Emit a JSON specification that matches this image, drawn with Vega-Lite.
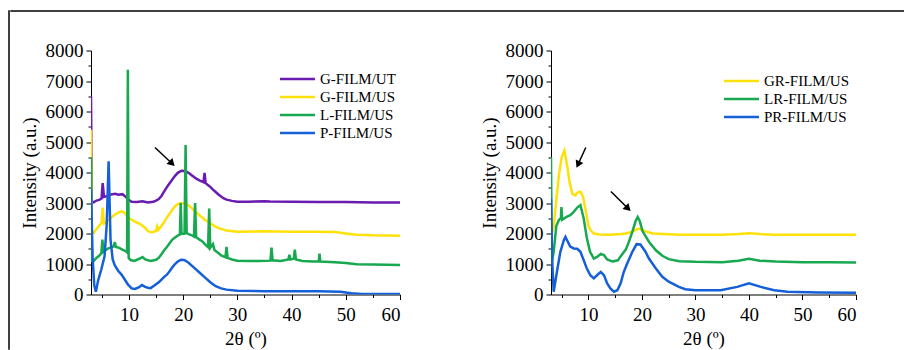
{
  "$schema": "https://vega.github.io/schema/vega-lite/v6.json",
  "padding": {"left": 8, "top": 10, "right": 0, "bottom": 0},
  "background": "white",
  "config": {
    "view": {"stroke": null},
    "font": "Liberation Serif",
    "axis": {"labelFont": "Liberation Serif", "titleFont": "Liberation Serif", "labelFontSize": 19, "titleFontSize": 19, "titleFontWeight": "normal", "labelColor": "black", "titleColor": "black", "domainColor": "black", "tickColor": "black", "domainWidth": 1, "tickWidth": 1, "grid": false, "tickSize": 5, "format": "d"},
    "legend": {"labelFont": "Liberation Serif", "labelFontSize": 15, "labelColor": "black", "symbolType": "M-3,0H3", "symbolSize": 136, "symbolStrokeWidth": 2.5, "labelOffset": 15, "rowPadding": 2, "padding": 0, "title": null}
  },
  "datasets": {
    "L": [
      {"s":"G-FILM/UT","x":3,"y":6500},{"s":"G-FILM/UT","x":3.15,"y":3050},{"s":"G-FILM/UT","x":3.5,"y":3020},{"s":"G-FILM/UT","x":4,"y":3080},{"s":"G-FILM/UT","x":4.5,"y":3100},{"s":"G-FILM/UT","x":4.95,"y":3150},{"s":"G-FILM/UT","x":5.15,"y":3650},{"s":"G-FILM/UT","x":5.4,"y":3200},{"s":"G-FILM/UT","x":6,"y":3230},{"s":"G-FILM/UT","x":6.7,"y":3280},{"s":"G-FILM/UT","x":7.5,"y":3300},{"s":"G-FILM/UT","x":8,"y":3270},{"s":"G-FILM/UT","x":8.8,"y":3290},{"s":"G-FILM/UT","x":9.3,"y":3220},{"s":"G-FILM/UT","x":9.8,"y":3120},{"s":"G-FILM/UT","x":10.5,"y":3040},{"s":"G-FILM/UT","x":11.5,"y":3030},{"s":"G-FILM/UT","x":12.5,"y":3060},{"s":"G-FILM/UT","x":13.5,"y":3020},{"s":"G-FILM/UT","x":14.5,"y":3040},{"s":"G-FILM/UT","x":15,"y":3080},{"s":"G-FILM/UT","x":15.5,"y":3130},{"s":"G-FILM/UT","x":16,"y":3230},{"s":"G-FILM/UT","x":16.5,"y":3380},{"s":"G-FILM/UT","x":17,"y":3520},{"s":"G-FILM/UT","x":17.5,"y":3650},{"s":"G-FILM/UT","x":18,"y":3770},{"s":"G-FILM/UT","x":18.5,"y":3890},{"s":"G-FILM/UT","x":19,"y":3990},{"s":"G-FILM/UT","x":19.7,"y":4060},{"s":"G-FILM/UT","x":20.3,"y":4050},{"s":"G-FILM/UT","x":21,"y":3990},{"s":"G-FILM/UT","x":21.5,"y":3920},{"s":"G-FILM/UT","x":22,"y":3850},{"s":"G-FILM/UT","x":22.5,"y":3790},{"s":"G-FILM/UT","x":23,"y":3740},{"s":"G-FILM/UT","x":23.75,"y":3680},{"s":"G-FILM/UT","x":23.95,"y":3990},{"s":"G-FILM/UT","x":24.15,"y":3650},{"s":"G-FILM/UT","x":24.5,"y":3600},{"s":"G-FILM/UT","x":25,"y":3530},{"s":"G-FILM/UT","x":25.5,"y":3440},{"s":"G-FILM/UT","x":26,"y":3360},{"s":"G-FILM/UT","x":26.5,"y":3280},{"s":"G-FILM/UT","x":27,"y":3210},{"s":"G-FILM/UT","x":27.5,"y":3150},{"s":"G-FILM/UT","x":28,"y":3110},{"s":"G-FILM/UT","x":29,"y":3070},{"s":"G-FILM/UT","x":30,"y":3040},{"s":"G-FILM/UT","x":32,"y":3040},{"s":"G-FILM/UT","x":35,"y":3060},{"s":"G-FILM/UT","x":36,"y":3050},{"s":"G-FILM/UT","x":40,"y":3040},{"s":"G-FILM/UT","x":45,"y":3030},{"s":"G-FILM/UT","x":50,"y":3030},{"s":"G-FILM/UT","x":55,"y":3020},{"s":"G-FILM/UT","x":60,"y":3020},
      {"s":"G-FILM/US","x":3,"y":5400},{"s":"G-FILM/US","x":3.15,"y":2050},{"s":"G-FILM/US","x":3.5,"y":2020},{"s":"G-FILM/US","x":4,"y":2150},{"s":"G-FILM/US","x":4.5,"y":2250},{"s":"G-FILM/US","x":4.95,"y":2350},{"s":"G-FILM/US","x":5.15,"y":2850},{"s":"G-FILM/US","x":5.4,"y":2320},{"s":"G-FILM/US","x":6,"y":2400},{"s":"G-FILM/US","x":6.5,"y":2480},{"s":"G-FILM/US","x":7,"y":2570},{"s":"G-FILM/US","x":7.5,"y":2630},{"s":"G-FILM/US","x":8,"y":2680},{"s":"G-FILM/US","x":8.6,"y":2730},{"s":"G-FILM/US","x":9.2,"y":2680},{"s":"G-FILM/US","x":9.8,"y":2540},{"s":"G-FILM/US","x":10.5,"y":2450},{"s":"G-FILM/US","x":11,"y":2400},{"s":"G-FILM/US","x":12,"y":2320},{"s":"G-FILM/US","x":13,"y":2180},{"s":"G-FILM/US","x":13.5,"y":2080},{"s":"G-FILM/US","x":14,"y":2040},{"s":"G-FILM/US","x":14.5,"y":2050},{"s":"G-FILM/US","x":15,"y":2090},{"s":"G-FILM/US","x":15.2,"y":2230},{"s":"G-FILM/US","x":15.4,"y":2120},{"s":"G-FILM/US","x":16,"y":2250},{"s":"G-FILM/US","x":16.5,"y":2380},{"s":"G-FILM/US","x":17,"y":2520},{"s":"G-FILM/US","x":17.5,"y":2650},{"s":"G-FILM/US","x":18,"y":2780},{"s":"G-FILM/US","x":18.5,"y":2890},{"s":"G-FILM/US","x":19,"y":2960},{"s":"G-FILM/US","x":19.6,"y":3000},{"s":"G-FILM/US","x":20.2,"y":2980},{"s":"G-FILM/US","x":21,"y":2920},{"s":"G-FILM/US","x":21.5,"y":2850},{"s":"G-FILM/US","x":22,"y":2760},{"s":"G-FILM/US","x":22.5,"y":2680},{"s":"G-FILM/US","x":23,"y":2600},{"s":"G-FILM/US","x":23.5,"y":2530},{"s":"G-FILM/US","x":24,"y":2450},{"s":"G-FILM/US","x":25,"y":2330},{"s":"G-FILM/US","x":26,"y":2220},{"s":"G-FILM/US","x":27,"y":2150},{"s":"G-FILM/US","x":28,"y":2100},{"s":"G-FILM/US","x":30,"y":2060},{"s":"G-FILM/US","x":35,"y":2070},{"s":"G-FILM/US","x":40,"y":2060},{"s":"G-FILM/US","x":45,"y":2060},{"s":"G-FILM/US","x":48,"y":2050},{"s":"G-FILM/US","x":50,"y":2000},{"s":"G-FILM/US","x":52,"y":1960},{"s":"G-FILM/US","x":55,"y":1940},{"s":"G-FILM/US","x":60,"y":1930},
      {"s":"L-FILM/US","x":3,"y":4500},{"s":"L-FILM/US","x":3.15,"y":1100},{"s":"L-FILM/US","x":3.5,"y":1100},{"s":"L-FILM/US","x":4,"y":1200},{"s":"L-FILM/US","x":4.5,"y":1270},{"s":"L-FILM/US","x":4.9,"y":1350},{"s":"L-FILM/US","x":5.1,"y":1800},{"s":"L-FILM/US","x":5.3,"y":1400},{"s":"L-FILM/US","x":5.8,"y":1470},{"s":"L-FILM/US","x":6.3,"y":1520},{"s":"L-FILM/US","x":6.8,"y":1550},{"s":"L-FILM/US","x":7.2,"y":1580},{"s":"L-FILM/US","x":7.4,"y":1720},{"s":"L-FILM/US","x":7.6,"y":1560},{"s":"L-FILM/US","x":8.2,"y":1530},{"s":"L-FILM/US","x":8.8,"y":1470},{"s":"L-FILM/US","x":9.4,"y":1420},{"s":"L-FILM/US","x":9.65,"y":1380},{"s":"L-FILM/US","x":9.8,"y":7370},{"s":"L-FILM/US","x":9.95,"y":1200},{"s":"L-FILM/US","x":10.3,"y":1130},{"s":"L-FILM/US","x":11,"y":1100},{"s":"L-FILM/US","x":12,"y":1180},{"s":"L-FILM/US","x":12.5,"y":1230},{"s":"L-FILM/US","x":13,"y":1150},{"s":"L-FILM/US","x":14,"y":1100},{"s":"L-FILM/US","x":15,"y":1140},{"s":"L-FILM/US","x":15.5,"y":1200},{"s":"L-FILM/US","x":16,"y":1320},{"s":"L-FILM/US","x":16.5,"y":1450},{"s":"L-FILM/US","x":17,"y":1560},{"s":"L-FILM/US","x":17.5,"y":1680},{"s":"L-FILM/US","x":18,"y":1800},{"s":"L-FILM/US","x":18.5,"y":1870},{"s":"L-FILM/US","x":19,"y":1930},{"s":"L-FILM/US","x":19.4,"y":1970},{"s":"L-FILM/US","x":19.55,"y":3000},{"s":"L-FILM/US","x":19.7,"y":1990},{"s":"L-FILM/US","x":20.25,"y":2000},{"s":"L-FILM/US","x":20.45,"y":4900},{"s":"L-FILM/US","x":20.65,"y":2010},{"s":"L-FILM/US","x":21,"y":1980},{"s":"L-FILM/US","x":21.5,"y":1950},{"s":"L-FILM/US","x":22,"y":1900},{"s":"L-FILM/US","x":22.2,"y":3000},{"s":"L-FILM/US","x":22.4,"y":1880},{"s":"L-FILM/US","x":23,"y":1800},{"s":"L-FILM/US","x":23.5,"y":1750},{"s":"L-FILM/US","x":24,"y":1650},{"s":"L-FILM/US","x":24.6,"y":1550},{"s":"L-FILM/US","x":24.8,"y":2820},{"s":"L-FILM/US","x":25,"y":1530},{"s":"L-FILM/US","x":25.5,"y":1650},{"s":"L-FILM/US","x":25.8,"y":1450},{"s":"L-FILM/US","x":26.5,"y":1360},{"s":"L-FILM/US","x":27,"y":1280},{"s":"L-FILM/US","x":27.8,"y":1220},{"s":"L-FILM/US","x":28,"y":1560},{"s":"L-FILM/US","x":28.2,"y":1200},{"s":"L-FILM/US","x":29,"y":1150},{"s":"L-FILM/US","x":30,"y":1110},{"s":"L-FILM/US","x":32,"y":1100},{"s":"L-FILM/US","x":34,"y":1100},{"s":"L-FILM/US","x":36.1,"y":1110},{"s":"L-FILM/US","x":36.3,"y":1540},{"s":"L-FILM/US","x":36.5,"y":1120},{"s":"L-FILM/US","x":38,"y":1100},{"s":"L-FILM/US","x":39.4,"y":1150},{"s":"L-FILM/US","x":39.6,"y":1300},{"s":"L-FILM/US","x":39.8,"y":1150},{"s":"L-FILM/US","x":40.4,"y":1180},{"s":"L-FILM/US","x":40.6,"y":1470},{"s":"L-FILM/US","x":40.8,"y":1150},{"s":"L-FILM/US","x":42,"y":1100},{"s":"L-FILM/US","x":44,"y":1080},{"s":"L-FILM/US","x":45,"y":1080},{"s":"L-FILM/US","x":45.15,"y":1340},{"s":"L-FILM/US","x":45.3,"y":1080},{"s":"L-FILM/US","x":48,"y":1060},{"s":"L-FILM/US","x":50,"y":1030},{"s":"L-FILM/US","x":52,"y":990},{"s":"L-FILM/US","x":55,"y":980},{"s":"L-FILM/US","x":60,"y":970},
      {"s":"P-FILM/US","x":3,"y":3450},{"s":"P-FILM/US","x":3.3,"y":1200},{"s":"P-FILM/US","x":3.6,"y":300},{"s":"P-FILM/US","x":3.9,"y":90},{"s":"P-FILM/US","x":4.3,"y":450},{"s":"P-FILM/US","x":4.9,"y":820},{"s":"P-FILM/US","x":5.5,"y":1250},{"s":"P-FILM/US","x":5.9,"y":2300},{"s":"P-FILM/US","x":6.25,"y":4370},{"s":"P-FILM/US","x":6.6,"y":1800},{"s":"P-FILM/US","x":7,"y":1150},{"s":"P-FILM/US","x":7.4,"y":950},{"s":"P-FILM/US","x":8,"y":780},{"s":"P-FILM/US","x":8.6,"y":660},{"s":"P-FILM/US","x":9.2,"y":500},{"s":"P-FILM/US","x":9.8,"y":330},{"s":"P-FILM/US","x":10.5,"y":200},{"s":"P-FILM/US","x":11.1,"y":180},{"s":"P-FILM/US","x":11.8,"y":230},{"s":"P-FILM/US","x":12.4,"y":310},{"s":"P-FILM/US","x":13,"y":250},{"s":"P-FILM/US","x":13.5,"y":220},{"s":"P-FILM/US","x":14,"y":210},{"s":"P-FILM/US","x":14.75,"y":300},{"s":"P-FILM/US","x":15.5,"y":400},{"s":"P-FILM/US","x":16,"y":490},{"s":"P-FILM/US","x":16.5,"y":580},{"s":"P-FILM/US","x":17,"y":650},{"s":"P-FILM/US","x":17.5,"y":760},{"s":"P-FILM/US","x":18,"y":890},{"s":"P-FILM/US","x":18.5,"y":1000},{"s":"P-FILM/US","x":19,"y":1080},{"s":"P-FILM/US","x":19.6,"y":1140},{"s":"P-FILM/US","x":20.2,"y":1130},{"s":"P-FILM/US","x":21,"y":1040},{"s":"P-FILM/US","x":22,"y":880},{"s":"P-FILM/US","x":23,"y":720},{"s":"P-FILM/US","x":24,"y":560},{"s":"P-FILM/US","x":25,"y":400},{"s":"P-FILM/US","x":26,"y":270},{"s":"P-FILM/US","x":27,"y":200},{"s":"P-FILM/US","x":28,"y":160},{"s":"P-FILM/US","x":30,"y":120},{"s":"P-FILM/US","x":35,"y":110},{"s":"P-FILM/US","x":40,"y":105},{"s":"P-FILM/US","x":45,"y":110},{"s":"P-FILM/US","x":49,"y":90},{"s":"P-FILM/US","x":51,"y":40},{"s":"P-FILM/US","x":53,"y":20},{"s":"P-FILM/US","x":60,"y":15}
    ],
    "R": [
      {"s":"GR-FILM/US","x":3,"y":1950},{"s":"GR-FILM/US","x":3.5,"y":2200},{"s":"GR-FILM/US","x":4,"y":3100},{"s":"GR-FILM/US","x":4.5,"y":3950},{"s":"GR-FILM/US","x":5,"y":4500},{"s":"GR-FILM/US","x":5.5,"y":4720},{"s":"GR-FILM/US","x":6,"y":4250},{"s":"GR-FILM/US","x":6.5,"y":3650},{"s":"GR-FILM/US","x":7,"y":3300},{"s":"GR-FILM/US","x":7.5,"y":3250},{"s":"GR-FILM/US","x":8,"y":3350},{"s":"GR-FILM/US","x":8.5,"y":3370},{"s":"GR-FILM/US","x":9,"y":3200},{"s":"GR-FILM/US","x":9.5,"y":2750},{"s":"GR-FILM/US","x":10,"y":2250},{"s":"GR-FILM/US","x":10.5,"y":2080},{"s":"GR-FILM/US","x":11,"y":2000},{"s":"GR-FILM/US","x":12,"y":1970},{"s":"GR-FILM/US","x":14,"y":1960},{"s":"GR-FILM/US","x":16,"y":1980},{"s":"GR-FILM/US","x":17,"y":2000},{"s":"GR-FILM/US","x":18,"y":2050},{"s":"GR-FILM/US","x":19,"y":2130},{"s":"GR-FILM/US","x":19.5,"y":2160},{"s":"GR-FILM/US","x":20,"y":2120},{"s":"GR-FILM/US","x":21,"y":2050},{"s":"GR-FILM/US","x":22,"y":2000},{"s":"GR-FILM/US","x":24,"y":1980},{"s":"GR-FILM/US","x":27,"y":1960},{"s":"GR-FILM/US","x":30,"y":1960},{"s":"GR-FILM/US","x":35,"y":1960},{"s":"GR-FILM/US","x":38,"y":1980},{"s":"GR-FILM/US","x":40,"y":2010},{"s":"GR-FILM/US","x":42,"y":1980},{"s":"GR-FILM/US","x":45,"y":1960},{"s":"GR-FILM/US","x":50,"y":1960},{"s":"GR-FILM/US","x":55,"y":1960},{"s":"GR-FILM/US","x":60,"y":1960},
      {"s":"LR-FILM/US","x":3,"y":4500},{"s":"LR-FILM/US","x":3.15,"y":1050},{"s":"LR-FILM/US","x":3.5,"y":1400},{"s":"LR-FILM/US","x":4,"y":2250},{"s":"LR-FILM/US","x":4.5,"y":2450},{"s":"LR-FILM/US","x":4.85,"y":2500},{"s":"LR-FILM/US","x":4.95,"y":2870},{"s":"LR-FILM/US","x":5.1,"y":2450},{"s":"LR-FILM/US","x":5.5,"y":2500},{"s":"LR-FILM/US","x":6,"y":2550},{"s":"LR-FILM/US","x":6.6,"y":2600},{"s":"LR-FILM/US","x":7.2,"y":2700},{"s":"LR-FILM/US","x":7.9,"y":2850},{"s":"LR-FILM/US","x":8.5,"y":2930},{"s":"LR-FILM/US","x":9.1,"y":2500},{"s":"LR-FILM/US","x":9.7,"y":1850},{"s":"LR-FILM/US","x":10.3,"y":1400},{"s":"LR-FILM/US","x":11,"y":1180},{"s":"LR-FILM/US","x":11.6,"y":1230},{"s":"LR-FILM/US","x":12.3,"y":1330},{"s":"LR-FILM/US","x":12.9,"y":1290},{"s":"LR-FILM/US","x":13.5,"y":1150},{"s":"LR-FILM/US","x":14.5,"y":1080},{"s":"LR-FILM/US","x":15.5,"y":1120},{"s":"LR-FILM/US","x":16,"y":1250},{"s":"LR-FILM/US","x":17,"y":1480},{"s":"LR-FILM/US","x":17.5,"y":1700},{"s":"LR-FILM/US","x":18.2,"y":2050},{"s":"LR-FILM/US","x":18.8,"y":2400},{"s":"LR-FILM/US","x":19.2,"y":2540},{"s":"LR-FILM/US","x":19.6,"y":2400},{"s":"LR-FILM/US","x":20.1,"y":2080},{"s":"LR-FILM/US","x":21.3,"y":1730},{"s":"LR-FILM/US","x":22.6,"y":1450},{"s":"LR-FILM/US","x":23.8,"y":1270},{"s":"LR-FILM/US","x":25,"y":1160},{"s":"LR-FILM/US","x":27,"y":1090},{"s":"LR-FILM/US","x":30,"y":1070},{"s":"LR-FILM/US","x":35,"y":1060},{"s":"LR-FILM/US","x":38,"y":1110},{"s":"LR-FILM/US","x":40,"y":1170},{"s":"LR-FILM/US","x":42,"y":1110},{"s":"LR-FILM/US","x":45,"y":1080},{"s":"LR-FILM/US","x":50,"y":1060},{"s":"LR-FILM/US","x":55,"y":1060},{"s":"LR-FILM/US","x":60,"y":1050},
      {"s":"PR-FILM/US","x":3,"y":3150},{"s":"PR-FILM/US","x":3.2,"y":1200},{"s":"PR-FILM/US","x":3.5,"y":90},{"s":"PR-FILM/US","x":4.1,"y":740},{"s":"PR-FILM/US","x":4.75,"y":1400},{"s":"PR-FILM/US","x":5.4,"y":1780},{"s":"PR-FILM/US","x":5.7,"y":1890},{"s":"PR-FILM/US","x":6,"y":1780},{"s":"PR-FILM/US","x":6.6,"y":1570},{"s":"PR-FILM/US","x":7.25,"y":1510},{"s":"PR-FILM/US","x":7.9,"y":1500},{"s":"PR-FILM/US","x":8.5,"y":1400},{"s":"PR-FILM/US","x":9.1,"y":1130},{"s":"PR-FILM/US","x":9.7,"y":850},{"s":"PR-FILM/US","x":10.35,"y":630},{"s":"PR-FILM/US","x":11,"y":530},{"s":"PR-FILM/US","x":11.6,"y":630},{"s":"PR-FILM/US","x":12.3,"y":740},{"s":"PR-FILM/US","x":12.9,"y":630},{"s":"PR-FILM/US","x":13.5,"y":360},{"s":"PR-FILM/US","x":14.1,"y":200},{"s":"PR-FILM/US","x":14.75,"y":90},{"s":"PR-FILM/US","x":15.4,"y":140},{"s":"PR-FILM/US","x":16,"y":360},{"s":"PR-FILM/US","x":16.6,"y":740},{"s":"PR-FILM/US","x":17.2,"y":1000},{"s":"PR-FILM/US","x":18.2,"y":1400},{"s":"PR-FILM/US","x":19,"y":1650},{"s":"PR-FILM/US","x":19.7,"y":1640},{"s":"PR-FILM/US","x":20.6,"y":1420},{"s":"PR-FILM/US","x":21.3,"y":1180},{"s":"PR-FILM/US","x":22.6,"y":850},{"s":"PR-FILM/US","x":23.8,"y":580},{"s":"PR-FILM/US","x":25,"y":420},{"s":"PR-FILM/US","x":26.9,"y":250},{"s":"PR-FILM/US","x":28.1,"y":175},{"s":"PR-FILM/US","x":30,"y":140},{"s":"PR-FILM/US","x":34.7,"y":140},{"s":"PR-FILM/US","x":37.8,"y":250},{"s":"PR-FILM/US","x":40,"y":370},{"s":"PR-FILM/US","x":42.2,"y":250},{"s":"PR-FILM/US","x":44.7,"y":140},{"s":"PR-FILM/US","x":47.2,"y":90},{"s":"PR-FILM/US","x":53,"y":66},{"s":"PR-FILM/US","x":60,"y":60}
    ],
    "AL": [{"x1":14.8,"y1":4820,"x2":17.95,"y2":4295}],
    "AR": [{"x1":9.5,"y1":4820,"x2":8.05,"y2":4262},{"x1":14.2,"y1":3380,"x2":17.4,"y2":2820}]
  },
  "spacing": 0,
  "hconcat": [
    {
      "data": {"values": []},
      "width": 0.01, "height": 338,
      "view": {"stroke": "black", "strokeWidth": 1.5},
      "mark": {"type": "point", "opacity": 0},
      "encoding": {}
    },
    {
      "spacing": 29.5,
      "vconcat": [
        {
          "data": {"values": []},
          "width": 895, "height": 0.01,
          "view": {"stroke": "black", "strokeWidth": 1.5},
          "mark": {"type": "point", "opacity": 0},
          "encoding": {}
        },
        {
          "spacing": 8,
          "hconcat": [
            {
              "data": {"values": []},
              "width": 0.01, "height": 1,
              "mark": {"type": "point", "opacity": 0},
              "encoding": {}
            },
            {
              "spacing": 79,
              "resolve": {"legend": {"color": "independent"}, "scale": {"color": "independent"}},
              "hconcat": [
                {
                  "width": 309, "height": 244,
                  "resolve": {"axis": {"x": "independent", "y": "independent"}},
                  "layer": [
                    {
                      "data": {"name": "L"},
                      "mark": {"type": "line", "strokeWidth": 2.5, "clip": true},
                      "encoding": {
                        "x": {"field": "x", "type": "quantitative", "scale": {"domain": [3, 60], "nice": false, "zero": false}, "axis": {"values": [10, 20, 30, 40, 50, 60], "title": "2θ (º)", "titlePadding": 5, "labelPadding": 6}},
                        "y": {"field": "y", "type": "quantitative", "scale": {"domain": [0, 8000], "nice": false}, "axis": {"values": [0, 1000, 2000, 3000, 4000, 5000, 6000, 7000, 8000], "title": "Intensity (a.u.)", "titlePadding": 6, "labelPadding": 3}},
                        "color": {"field": "s", "type": "nominal", "scale": {"domain": ["G-FILM/UT", "G-FILM/US", "L-FILM/US", "P-FILM/US"], "range": ["#6A1BB0", "#FFE10A", "#17A850", "#1560D8"]}, "legend": {"orient": "none", "legendX": 199, "legendY": 21}}
                      }
                    },
                    {
                      "data": {"name": "AL"},
                      "mark": {"type": "rule", "color": "black", "strokeWidth": 1.5},
                      "encoding": {
                        "x": {"field": "x1", "type": "quantitative", "axis": {"values": [5, 15, 25, 35, 45, 55], "labels": false, "domain": false, "tickSize": 3, "title": null, "orient": "bottom"}},
                        "y": {"field": "y1", "type": "quantitative", "axis": {"values": [500, 1500, 2500, 3500, 4500, 5500, 6500, 7500], "labels": false, "domain": false, "tickSize": 3, "title": null, "orient": "left"}},
                        "x2": {"field": "x2"}, "y2": {"field": "y2"}
                      }
                    },
                    {
                      "data": {"name": "AL"},
                      "mark": {"type": "point", "shape": "triangle-up", "filled": true, "color": "black", "size": 70, "angle": 135, "opacity": 1},
                      "encoding": {
                        "x": {"field": "x2", "type": "quantitative", "axis": null},
                        "y": {"field": "y2", "type": "quantitative", "axis": null}
                      }
                    }
                  ]
                },
                {
                  "width": 305, "height": 244,
                  "resolve": {"axis": {"x": "independent", "y": "independent"}},
                  "layer": [
                    {
                      "data": {"name": "R"},
                      "mark": {"type": "line", "strokeWidth": 2.5, "clip": true},
                      "encoding": {
                        "x": {"field": "x", "type": "quantitative", "scale": {"domain": [3, 60], "nice": false, "zero": false}, "axis": {"values": [10, 20, 30, 40, 50, 60], "title": "2θ (º)", "titlePadding": 5, "labelPadding": 6}},
                        "y": {"field": "y", "type": "quantitative", "scale": {"domain": [0, 8000], "nice": false}, "axis": {"values": [0, 1000, 2000, 3000, 4000, 5000, 6000, 7000, 8000], "title": "Intensity (a.u.)", "titlePadding": 6, "labelPadding": 3}},
                        "color": {"field": "s", "type": "nominal", "scale": {"domain": ["GR-FILM/US", "LR-FILM/US", "PR-FILM/US"], "range": ["#FFE10A", "#17A850", "#1560D8"]}, "legend": {"orient": "none", "legendX": 183, "legendY": 23}}
                      }
                    },
                    {
                      "data": {"name": "AR"},
                      "mark": {"type": "rule", "color": "black", "strokeWidth": 1.5},
                      "encoding": {
                        "x": {"field": "x1", "type": "quantitative", "axis": {"values": [5, 15, 25, 35, 45, 55], "labels": false, "domain": false, "tickSize": 3, "title": null, "orient": "bottom"}},
                        "y": {"field": "y1", "type": "quantitative", "axis": {"values": [500, 1500, 2500, 3500, 4500, 5500, 6500, 7500], "labels": false, "domain": false, "tickSize": 3, "title": null, "orient": "left"}},
                        "x2": {"field": "x2"}, "y2": {"field": "y2"}
                      }
                    },
                    {
                      "data": {"name": "AR"},
                      "transform": [{"filter": "datum.x2 < datum.x1"}],
                      "mark": {"type": "point", "shape": "triangle-up", "filled": true, "color": "black", "size": 70, "angle": 205, "opacity": 1},
                      "encoding": {
                        "x": {"field": "x2", "type": "quantitative", "axis": null},
                        "y": {"field": "y2", "type": "quantitative", "axis": null}
                      }
                    },
                    {
                      "data": {"name": "AR"},
                      "transform": [{"filter": "datum.x2 > datum.x1"}],
                      "mark": {"type": "point", "shape": "triangle-up", "filled": true, "color": "black", "size": 70, "angle": 135, "opacity": 1},
                      "encoding": {
                        "x": {"field": "x2", "type": "quantitative", "axis": null},
                        "y": {"field": "y2", "type": "quantitative", "axis": null}
                      }
                    }
                  ]
                }
              ]
            }
          ]
        }
      ]
    }
  ],
  "resolve": {"legend": {"color": "independent"}, "scale": {"color": "independent"}}
}
